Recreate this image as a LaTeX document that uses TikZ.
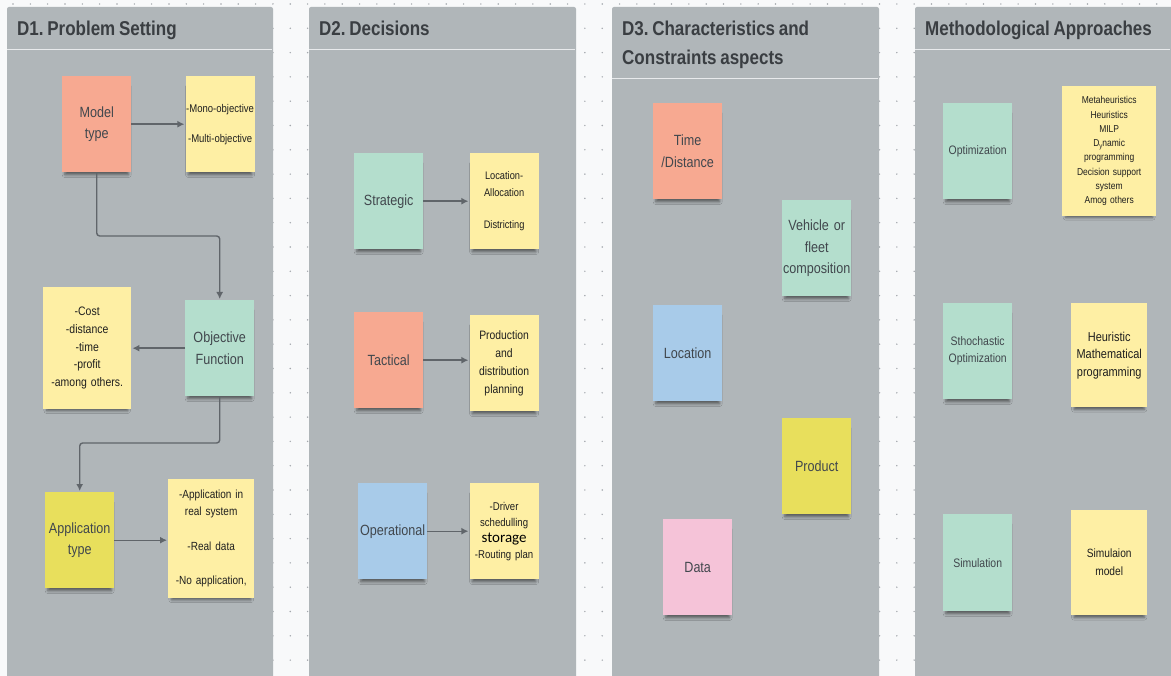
\documentclass[tikz,border=0pt]{standalone}
\usepackage{fontspec}
\setmainfont{Liberation Sans}[FakeStretch=0.85,WordSpace=0.78]
\newfontfamily\calibrifont{Carlito}
\usetikzlibrary{positioning,shadows.blur,arrows.meta}
\frenchspacing

\definecolor{boardbg}{HTML}{F8F9FA}
\definecolor{griddot}{HTML}{A3A8AD}
\definecolor{lanegray}{HTML}{B0B6B9}
\definecolor{laneline}{HTML}{E8EAEC}
\definecolor{titlegray}{HTML}{3A3E42}
\definecolor{labelgray}{HTML}{41474D}
\definecolor{linkgray}{HTML}{60656A}
\definecolor{notesalmon}{HTML}{F7A991}
\definecolor{noteyellow}{HTML}{FEEFA4}
\definecolor{notemint}{HTML}{B4DECD}
\definecolor{noteblue}{HTML}{A8CBE9}
\definecolor{noteolive}{HTML}{E8DF5C}
\definecolor{notepink}{HTML}{F5C3D8}

\begin{document}
\begin{tikzpicture}[-,>={Latex[length=7pt,width=7pt]},shorten >=1pt,x=1pt,y=-1pt,
  note/.style={anchor=north west,inner sep=0pt,minimum width=69pt,minimum height=96pt,text width=69pt,align=center,
    blur shadow={shadow xshift=0pt,shadow yshift=-7pt,shadow scale=0.92,shadow blur radius=3pt,shadow opacity=50}},
  big note/.style={note,text=labelgray,font=\fontsize{14.8}{21.5}\selectfont},
  list note/.style={note,fill=noteyellow,text=black!88,font=\fontsize{11.5}{16.7}\selectfont},
  lane/.style={fill=lanegray,rounded corners=2pt},
  lane title/.style={anchor=north west,inner sep=0pt,text=titlegray,align=left,font=\bfseries\fontsize{20}{29}\selectfont},
  link/.style={->,draw=linkgray,line width=1.4pt,rounded corners=3pt}]

  \useasboundingbox (0,0) rectangle (1171,676);
  \fill[boardbg] (0,0) rectangle (1171,676);
  \foreach \i in {0,...,67}
    \foreach \j in {0,...,27}
      \fill[griddot] (13+17.33*\i,4+24.3*\j) circle (0.8pt);

  % lanes
  \fill[lane] (7,7) rectangle (273,690);
  \fill[lane] (309,7) rectangle (576,690);
  \fill[lane] (612,7) rectangle (879,690);
  \fill[lane] (915,7) rectangle (1180,690);
  \draw[laneline,line width=1.5pt] (7,49.5) -- (273,49.5);
  \draw[laneline,line width=1.5pt] (309,49.5) -- (576,49.5);
  \draw[laneline,line width=1.5pt] (612,78.5) -- (879,78.5);
  \draw[laneline,line width=1.5pt] (915,49.5) -- (1171,49.5);

  \node[lane title] (t1) at (17,20.5) {D1. Problem Setting};
  \node[lane title] (t2) at (319,20.5) {D2. Decisions};
  \node[lane title] (t3) at (622,20.5) {D3. Characteristics and\\Constraints aspects};
  \node[lane title] (t4) at (925,20.5) {Methodological Approaches};

  % D1
  \node[big note, fill=notesalmon] (1) at (62,76) {Model\\type};
  \node[list note, font=\fontsize{11.2}{30}\selectfont] (2) [right=54pt of 1] {-Mono-objective\\-Multi-objective};
  \node[list note, minimum width=88pt, text width=88pt, minimum height=122pt, font=\fontsize{12.3}{17.7}\selectfont] (3) at (43,287)
    {-Cost\\-distance\\-time\\-profit\\-among others.};
  \node[big note, fill=notemint] (4) at (185,300) {Objective\\Function\\[10pt]};
  \node[big note, fill=noteolive] (5) at (45,492) {Application\\type};
  \node[list note, minimum width=86pt, text width=86pt, minimum height=119pt, font=\fontsize{11.8}{16.7}\selectfont] (6) at (168,479)
    {-Application in\\real system\\[18pt]-Real data\\[18pt]-No application,};

  \coordinate (c1) at (0,236);
  \coordinate (c2) at (0,443);
  \draw[link] (1) to (2);
  \draw[link] (1.south) -- (1.south |- c1) -| (4.north);
  \draw[link] (4) to (3);
  \draw[link] (4.south) -- (4.south |- c2) -| (5.north);
  \draw[link] (5) to (5 -| 6.west);

  % D2
  \node[big note, fill=notemint] (7) at (354,153) {Strategic};
  \node[list note, font=\fontsize{10.9}{16.7}\selectfont] (8) [right=46pt of 7] {Location-\\Allocation\\[15pt]Districting};
  \node[big note, fill=notesalmon] (9) at (354,312) {Tactical};
  \node[list note, font=\fontsize{12.2}{18}\selectfont] (10) [right=46pt of 9, yshift=-3pt] {Production\\and\\distribution\\planning};
  \node[big note, fill=noteblue] (11) at (358,483) {Operational};
  \node[list note, font=\fontsize{11.3}{16}\selectfont] (12) [right=42pt of 11]
    {-Driver\\schedulling\\{\calibrifont\fontsize{15}{16}\selectfont\color{black} storage}\\-Routing plan};

  \draw[link] (7) to (8);
  \draw[link] (9) to (9 -| 10.west);
  \draw[link] (11) to (12);

  % D3
  \node[big note, fill=notesalmon] (13) at (653,103) {Time\\/Distance};
  \node[big note, fill=notemint] (14) at (782,200) {Vehicle or\\fleet\\composition};
  \node[big note, fill=noteblue] (15) at (653,305) {Location};
  \node[big note, fill=noteolive] (16) at (782,418) {Product};
  \node[big note, fill=notepink] (17) at (663,519) {Data};

  % methods
  \node[big note, fill=notemint, font=\fontsize{12.3}{17}\selectfont] (18) at (943,103) {Optimization};
  \node[list note, minimum width=94pt, text width=94pt, minimum height=130pt, font=\fontsize{10}{14.3}\selectfont] (19) at (1062,86)
    {Metaheuristics\\Heuristics\\MILP\\D\raisebox{-0.3ex}{\fontsize{7}{7}\selectfont y}namic\\programming\\Decision support\\system\\Amog others};
  \node[big note, fill=notemint, font=\fontsize{12.3}{17}\selectfont] (20) at (943,303) {Sthochastic\\Optimization};
  \node[list note, minimum width=76pt, text width=76pt, minimum height=104pt, font=\fontsize{12.9}{17.5}\selectfont] (21) at (1071,303)
    {Heuristic\\Mathematical\\programming};
  \node[big note, fill=notemint, minimum height=97pt, font=\fontsize{12.3}{17}\selectfont] (22) at (943,514) {Simulation};
  \node[list note, minimum width=76pt, text width=76pt, minimum height=105pt, font=\fontsize{12}{18}\selectfont] (23) at (1071,510)
    {Simulaion\\model};

  ;
\end{tikzpicture}
\end{document}
